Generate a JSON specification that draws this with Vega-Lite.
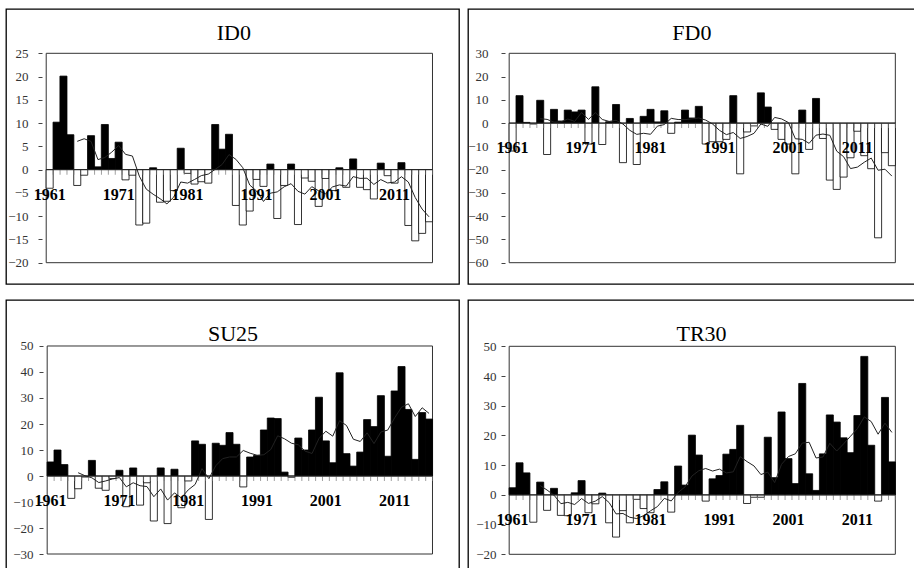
{
"$schema":"https://vega.github.io/schema/vega-lite/v6.json",
"padding":{"left":5,"top":8,"right":0,"bottom":0},
"background":"white",
"config":{"view":{"stroke":"#000","strokeWidth":1.3},"font":"Liberation Serif","text":{"font":"Liberation Serif"}},
"datasets":{
"labs":[{"year":1961,"lab":"1961"},{"year":1971,"lab":"1971"},{"year":1981,"lab":"1981"},{"year":1991,"lab":"1991"},{"year":2001,"lab":"2001"},{"year":2011,"lab":"2011"}],
"d":[
{"year":1961,"ID0":-4.0,"FD0":-12,"SU25":5.4,"TR30":2.4,"ID0m":null,"FD0m":null,"SU25m":null,"TR30m":null},
{"year":1962,"ID0":10.2,"FD0":11.8,"SU25":10.0,"TR30":10.8,"ID0m":null,"FD0m":null,"SU25m":null,"TR30m":null},
{"year":1963,"ID0":20.1,"FD0":0.3,"SU25":4.4,"TR30":7.4,"ID0m":null,"FD0m":null,"SU25m":null,"TR30m":null},
{"year":1964,"ID0":7.5,"FD0":-0.4,"SU25":-8.6,"TR30":-9.2,"ID0m":null,"FD0m":null,"SU25m":null,"TR30m":null},
{"year":1965,"ID0":-3.4,"FD0":9.8,"SU25":-4.9,"TR30":4.3,"ID0m":6.08,"FD0m":1.9,"SU25m":1.26,"TR30m":3.14},
{"year":1966,"ID0":-1.2,"FD0":-13.5,"SU25":-0.4,"TR30":-5.2,"ID0m":6.64,"FD0m":1.6,"SU25m":0.1,"TR30m":1.62},
{"year":1967,"ID0":7.3,"FD0":5.9,"SU25":6.0,"TR30":2.2,"ID0m":6.06,"FD0m":0.42,"SU25m":-0.7,"TR30m":-0.1},
{"year":1968,"ID0":0.6,"FD0":0.9,"SU25":-4.7,"TR30":-6.9,"ID0m":2.16,"FD0m":0.54,"SU25m":-2.52,"TR30m":-2.96},
{"year":1969,"ID0":9.7,"FD0":5.6,"SU25":-5.5,"TR30":-7.0,"ID0m":2.6,"FD0m":1.74,"SU25m":-1.9,"TR30m":-2.52},
{"year":1970,"ID0":2.4,"FD0":4.8,"SU25":-1.0,"TR30":0.7,"ID0m":3.76,"FD0m":0.74,"SU25m":-1.12,"TR30m":-3.24},
{"year":1971,"ID0":5.9,"FD0":5.6,"SU25":2.2,"TR30":4.8,"ID0m":5.18,"FD0m":4.56,"SU25m":-0.6,"TR30m":-1.24},
{"year":1972,"ID0":-2.2,"FD0":-9.0,"SU25":-11.8,"TR30":-6.0,"ID0m":3.28,"FD0m":1.58,"SU25m":-4.16,"TR30m":-2.88},
{"year":1973,"ID0":-1.2,"FD0":15.6,"SU25":3.1,"TR30":-3.0,"ID0m":2.92,"FD0m":4.52,"SU25m":-2.6,"TR30m":-2.1},
{"year":1974,"ID0":-11.9,"FD0":-9.2,"SU25":-11.2,"TR30":0.6,"ID0m":-1.4,"FD0m":1.56,"SU25m":-3.74,"TR30m":-0.58},
{"year":1975,"ID0":-11.5,"FD0":0.6,"SU25":-2.6,"TR30":-9.4,"ID0m":-4.18,"FD0m":0.72,"SU25m":-4.06,"TR30m":-2.6},
{"year":1976,"ID0":0.4,"FD0":8.0,"SU25":-17.3,"TR30":-14.2,"ID0m":-5.28,"FD0m":1.2,"SU25m":-7.96,"TR30m":-6.4},
{"year":1977,"ID0":-7.0,"FD0":-17.0,"SU25":3.1,"TR30":-5.3,"ID0m":-6.24,"FD0m":-0.4,"SU25m":-4.98,"TR30m":-6.26},
{"year":1978,"ID0":-6.8,"FD0":2.0,"SU25":-18.3,"TR30":-9.4,"ID0m":-7.36,"FD0m":-3.12,"SU25m":-9.26,"TR30m":-7.54},
{"year":1979,"ID0":-4.5,"FD0":-17.8,"SU25":2.6,"TR30":-1.5,"ID0m":-5.88,"FD0m":-4.84,"SU25m":-6.5,"TR30m":-7.96},
{"year":1980,"ID0":4.6,"FD0":2.9,"SU25":-12.2,"TR30":-4.6,"ID0m":-2.66,"FD0m":-4.38,"SU25m":-8.42,"TR30m":-7.0},
{"year":1981,"ID0":-0.8,"FD0":5.9,"SU25":-1.9,"TR30":-6.0,"ID0m":-2.9,"FD0m":-4.8,"SU25m":-5.34,"TR30m":-5.36},
{"year":1982,"ID0":-3.1,"FD0":0.5,"SU25":13.5,"TR30":1.8,"ID0m":-2.12,"FD0m":-1.3,"SU25m":-3.26,"TR30m":-3.94},
{"year":1983,"ID0":-2.6,"FD0":5.3,"SU25":12.2,"TR30":4.4,"ID0m":-1.28,"FD0m":-0.64,"SU25m":2.84,"TR30m":-1.18},
{"year":1984,"ID0":-2.9,"FD0":-4.4,"SU25":-16.7,"TR30":-5.8,"ID0m":-0.96,"FD0m":2.04,"SU25m":-1.02,"TR30m":-2.04},
{"year":1985,"ID0":9.7,"FD0":0.4,"SU25":12.6,"TR30":9.7,"ID0m":0.06,"FD0m":1.54,"SU25m":3.94,"TR30m":0.82},
{"year":1986,"ID0":4.4,"FD0":5.6,"SU25":11.8,"TR30":3.3,"ID0m":1.1,"FD0m":1.48,"SU25m":6.68,"TR30m":2.68},
{"year":1987,"ID0":7.6,"FD0":2.2,"SU25":16.7,"TR30":20.1,"ID0m":3.24,"FD0m":1.82,"SU25m":7.32,"TR30m":6.34},
{"year":1988,"ID0":-7.7,"FD0":7.2,"SU25":12.2,"TR30":13.4,"ID0m":2.22,"FD0m":2.2,"SU25m":7.32,"TR30m":8.14},
{"year":1989,"ID0":-11.9,"FD0":-9.0,"SU25":-4.2,"TR30":-2.1,"ID0m":0.42,"FD0m":1.28,"SU25m":9.82,"TR30m":8.88},
{"year":1990,"ID0":-8.9,"FD0":-8.0,"SU25":7.3,"TR30":5.4,"ID0m":-3.3,"FD0m":-0.4,"SU25m":8.76,"TR30m":8.02},
{"year":1991,"ID0":-2.1,"FD0":-8.0,"SU25":7.9,"TR30":6.5,"ID0m":-4.6,"FD0m":-3.12,"SU25m":7.98,"TR30m":8.66},
{"year":1992,"ID0":-3.6,"FD0":-7.0,"SU25":17.7,"TR30":13.7,"ID0m":-6.84,"FD0m":-4.96,"SU25m":8.18,"TR30m":7.38},
{"year":1993,"ID0":1.2,"FD0":11.8,"SU25":22.3,"TR30":15.3,"ID0m":-5.06,"FD0m":-4.04,"SU25m":10.2,"TR30m":7.76},
{"year":1994,"ID0":-10.5,"FD0":-21.8,"SU25":22.1,"TR30":23.4,"ID0m":-4.78,"FD0m":-6.6,"SU25m":15.46,"TR30m":12.86},
{"year":1995,"ID0":-3.4,"FD0":-3.8,"SU25":1.5,"TR30":-2.9,"ID0m":-3.68,"FD0m":-5.76,"SU25m":14.3,"TR30m":11.2},
{"year":1996,"ID0":1.2,"FD0":-1.2,"SU25":-0.5,"TR30":-0.8,"ID0m":-3.02,"FD0m":-4.4,"SU25m":12.62,"TR30m":9.74},
{"year":1997,"ID0":-11.8,"FD0":13.0,"SU25":14.6,"TR30":-0.8,"ID0m":-4.66,"FD0m":-0.4,"SU25m":12.0,"TR30m":6.84},
{"year":1998,"ID0":-1.8,"FD0":6.9,"SU25":10.0,"TR30":19.4,"ID0m":-5.26,"FD0m":-1.38,"SU25m":9.54,"TR30m":7.66},
{"year":1999,"ID0":-2.5,"FD0":-2.7,"SU25":17.7,"TR30":5.8,"ID0m":-3.66,"FD0m":2.44,"SU25m":8.66,"TR30m":4.14},
{"year":2000,"ID0":-7.9,"FD0":-7.0,"SU25":30.3,"TR30":27.9,"ID0m":-4.56,"FD0m":1.8,"SU25m":14.42,"TR30m":10.3},
{"year":2001,"ID0":-1.9,"FD0":-9.0,"SU25":13.5,"TR30":12.2,"ID0m":-5.18,"FD0m":0.24,"SU25m":17.22,"TR30m":12.9},
{"year":2002,"ID0":-4.5,"FD0":-21.8,"SU25":5.1,"TR30":3.8,"ID0m":-3.72,"FD0m":-6.72,"SU25m":15.32,"TR30m":13.82},
{"year":2003,"ID0":0.4,"FD0":5.6,"SU25":39.7,"TR30":37.5,"ID0m":-3.28,"FD0m":-6.98,"SU25m":21.26,"TR30m":17.44},
{"year":2004,"ID0":-3.8,"FD0":-11.3,"SU25":8.6,"TR30":7.1,"ID0m":-3.54,"FD0m":-8.7,"SU25m":19.44,"TR30m":17.7},
{"year":2005,"ID0":2.3,"FD0":10.6,"SU25":3.8,"TR30":1.5,"ID0m":-1.5,"FD0m":-5.18,"SU25m":14.14,"TR30m":12.42},
{"year":2006,"ID0":-3.8,"FD0":-6.6,"SU25":9.2,"TR30":13.8,"ID0m":-1.88,"FD0m":-4.7,"SU25m":13.28,"TR30m":12.74},
{"year":2007,"ID0":-4.3,"FD0":-24.5,"SU25":21.7,"TR30":26.9,"ID0m":-1.84,"FD0m":-5.24,"SU25m":16.6,"TR30m":17.36},
{"year":2008,"ID0":-6.3,"FD0":-28.5,"SU25":19.0,"TR30":24.5,"ID0m":-3.18,"FD0m":-12.06,"SU25m":12.46,"TR30m":14.76},
{"year":2009,"ID0":1.4,"FD0":-23.2,"SU25":30.9,"TR30":19.2,"ID0m":-2.14,"FD0m":-14.44,"SU25m":16.92,"TR30m":17.18},
{"year":2010,"ID0":-1.3,"FD0":-14.9,"SU25":7.6,"TR30":14.2,"ID0m":-2.86,"FD0m":-19.54,"SU25m":17.68,"TR30m":19.72},
{"year":2011,"ID0":-2.9,"FD0":-3.5,"SU25":32.7,"TR30":26.7,"ID0m":-2.68,"FD0m":-18.92,"SU25m":22.38,"TR30m":22.3},
{"year":2012,"ID0":1.5,"FD0":-14.0,"SU25":42.1,"TR30":46.6,"ID0m":-1.52,"FD0m":-16.82,"SU25m":26.46,"TR30m":26.24},
{"year":2013,"ID0":-12.0,"FD0":-19.6,"SU25":25.6,"TR30":16.7,"ID0m":-2.66,"FD0m":-15.04,"SU25m":27.78,"TR30m":24.68},
{"year":2014,"ID0":-15.3,"FD0":-49.3,"SU25":6.4,"TR30":-2.1,"ID0m":-6.0,"FD0m":-20.26,"SU25m":22.88,"TR30m":20.42},
{"year":2015,"ID0":-13.7,"FD0":-12.7,"SU25":24.4,"TR30":32.8,"ID0m":-8.48,"FD0m":-19.82,"SU25m":26.24,"TR30m":24.14},
{"year":2016,"ID0":-11.2,"FD0":-18.3,"SU25":21.9,"TR30":11.1,"ID0m":-10.14,"FD0m":-22.78,"SU25m":24.08,"TR30m":21.02}
]},
"spacing":14,
"vconcat":[
{"spacing":7,"hconcat":[
{"width":453,"height":275,"data":{"name":"d"},"layer":[
{"data":{"values":[{}]},"mark":{"type":"rect","fillOpacity":0,"stroke":"#333","strokeWidth":1},"encoding":{"x":{"datum":1960.5,"type":"quantitative","scale":{"domain":[1955.396,2019.619],"nice":false,"zero":false},"axis":null},"x2":{"datum":2016.5},"y":{"datum":25,"type":"quantitative","scale":{"domain":[-24.577,34.52],"nice":false,"zero":false},"axis":{"values":[-20,-15,-10,-5,0,5,10,15,20,25],"offset":-36,"title":null,"domain":false,"grid":false,"tickSize":4,"tickColor":"#444","labelFont":"Liberation Serif","labelFontSize":13,"labelColor":"#333","labelPadding":10,"labelOverlap":false}},"y2":{"datum":-20}}},
{"mark":{"type":"bar","size":7.05,"stroke":"#000","strokeWidth":0.8},"encoding":{"x":{"field":"year","type":"quantitative","scale":{"domain":[1955.396,2019.619],"nice":false,"zero":false},"axis":null},"y":{"field":"ID0","type":"quantitative","stack":null,"scale":{"domain":[-24.577,34.52],"nice":false,"zero":false},"axis":{"values":[-20,-15,-10,-5,0,5,10,15,20,25],"offset":-36,"title":null,"domain":false,"grid":false,"tickSize":4,"tickColor":"#444","labelFont":"Liberation Serif","labelFontSize":13,"labelColor":"#333","labelPadding":10,"labelOverlap":false}},"y2":{"datum":0},"fill":{"condition":{"test":"datum.ID0 >= 0","value":"#000"},"value":"#fff"}}},
{"mark":{"type":"tick","orient":"vertical","size":5,"thickness":1,"color":"#777","xOffset":3.52,"yOffset":2.5},"encoding":{"x":{"field":"year","type":"quantitative","scale":{"domain":[1955.396,2019.619],"nice":false,"zero":false},"axis":null},"y":{"datum":0,"type":"quantitative","scale":{"domain":[-24.577,34.52],"nice":false,"zero":false},"axis":{"values":[-20,-15,-10,-5,0,5,10,15,20,25],"offset":-36,"title":null,"domain":false,"grid":false,"tickSize":4,"tickColor":"#444","labelFont":"Liberation Serif","labelFontSize":13,"labelColor":"#333","labelPadding":10,"labelOverlap":false}}}},
{"data":{"values":[{}]},"mark":{"type":"rule","color":"#222","strokeWidth":1},"encoding":{"x":{"datum":1960.5,"type":"quantitative","scale":{"domain":[1955.396,2019.619],"nice":false,"zero":false},"axis":null},"x2":{"datum":2016.5},"y":{"datum":0,"type":"quantitative","scale":{"domain":[-24.577,34.52],"nice":false,"zero":false},"axis":{"values":[-20,-15,-10,-5,0,5,10,15,20,25],"offset":-36,"title":null,"domain":false,"grid":false,"tickSize":4,"tickColor":"#444","labelFont":"Liberation Serif","labelFontSize":13,"labelColor":"#333","labelPadding":10,"labelOverlap":false}}}},
{"mark":{"type":"line","color":"#222","strokeWidth":1},"encoding":{"x":{"field":"year","type":"quantitative","scale":{"domain":[1955.396,2019.619],"nice":false,"zero":false},"axis":null},"y":{"field":"ID0m","type":"quantitative","scale":{"domain":[-24.577,34.52],"nice":false,"zero":false},"axis":{"values":[-20,-15,-10,-5,0,5,10,15,20,25],"offset":-36,"title":null,"domain":false,"grid":false,"tickSize":4,"tickColor":"#444","labelFont":"Liberation Serif","labelFontSize":13,"labelColor":"#333","labelPadding":10,"labelOverlap":false}}}},
{"data":{"name":"labs"},"mark":{"type":"text","fontWeight":"bold","fontSize":16,"baseline":"alphabetic","align":"center","dy":30,"color":"#000"},"encoding":{"x":{"field":"year","type":"quantitative","scale":{"domain":[1955.396,2019.619],"nice":false,"zero":false},"axis":null},"y":{"datum":0,"type":"quantitative","scale":{"domain":[-24.577,34.52],"nice":false,"zero":false},"axis":{"values":[-20,-15,-10,-5,0,5,10,15,20,25],"offset":-36,"title":null,"domain":false,"grid":false,"tickSize":4,"tickColor":"#444","labelFont":"Liberation Serif","labelFontSize":13,"labelColor":"#333","labelPadding":10,"labelOverlap":false}},"text":{"field":"lab"}}},
{"data":{"values":[{}]},"mark":{"type":"text","fontSize":22,"baseline":"alphabetic","align":"center","color":"#000"},"encoding":{"x":{"datum":1987.7,"type":"quantitative","scale":{"domain":[1955.396,2019.619],"nice":false,"zero":false},"axis":null},"y":{"datum":27.79,"type":"quantitative","scale":{"domain":[-24.577,34.52],"nice":false,"zero":false},"axis":{"values":[-20,-15,-10,-5,0,5,10,15,20,25],"offset":-36,"title":null,"domain":false,"grid":false,"tickSize":4,"tickColor":"#444","labelFont":"Liberation Serif","labelFontSize":13,"labelColor":"#333","labelPadding":10,"labelOverlap":false}},"text":{"value":"ID0"}}}
]},
{"width":447,"height":275,"data":{"name":"d"},"layer":[
{"data":{"values":[{}]},"mark":{"type":"rect","fillOpacity":0,"stroke":"#333","strokeWidth":1},"encoding":{"x":{"datum":1960.5,"type":"quantitative","scale":{"domain":[1955.254,2018.627],"nice":false,"zero":false},"axis":null},"x2":{"datum":2016.5},"y":{"datum":30,"type":"quantitative","scale":{"domain":[-69.155,49.04],"nice":false,"zero":false},"axis":{"values":[-60,-50,-40,-30,-20,-10,0,10,20,30],"offset":-37,"title":null,"domain":false,"grid":false,"tickSize":4,"tickColor":"#444","labelFont":"Liberation Serif","labelFontSize":13,"labelColor":"#333","labelPadding":13,"labelOverlap":false}},"y2":{"datum":-60}}},
{"mark":{"type":"bar","size":7.05,"stroke":"#000","strokeWidth":0.8},"encoding":{"x":{"field":"year","type":"quantitative","scale":{"domain":[1955.254,2018.627],"nice":false,"zero":false},"axis":null},"y":{"field":"FD0","type":"quantitative","stack":null,"scale":{"domain":[-69.155,49.04],"nice":false,"zero":false},"axis":{"values":[-60,-50,-40,-30,-20,-10,0,10,20,30],"offset":-37,"title":null,"domain":false,"grid":false,"tickSize":4,"tickColor":"#444","labelFont":"Liberation Serif","labelFontSize":13,"labelColor":"#333","labelPadding":13,"labelOverlap":false}},"y2":{"datum":0},"fill":{"condition":{"test":"datum.FD0 >= 0","value":"#000"},"value":"#fff"}}},
{"mark":{"type":"tick","orient":"vertical","size":5,"thickness":1,"color":"#777","xOffset":3.52,"yOffset":2.5},"encoding":{"x":{"field":"year","type":"quantitative","scale":{"domain":[1955.254,2018.627],"nice":false,"zero":false},"axis":null},"y":{"datum":0,"type":"quantitative","scale":{"domain":[-69.155,49.04],"nice":false,"zero":false},"axis":{"values":[-60,-50,-40,-30,-20,-10,0,10,20,30],"offset":-37,"title":null,"domain":false,"grid":false,"tickSize":4,"tickColor":"#444","labelFont":"Liberation Serif","labelFontSize":13,"labelColor":"#333","labelPadding":13,"labelOverlap":false}}}},
{"data":{"values":[{}]},"mark":{"type":"rule","color":"#222","strokeWidth":1},"encoding":{"x":{"datum":1960.5,"type":"quantitative","scale":{"domain":[1955.254,2018.627],"nice":false,"zero":false},"axis":null},"x2":{"datum":2016.5},"y":{"datum":0,"type":"quantitative","scale":{"domain":[-69.155,49.04],"nice":false,"zero":false},"axis":{"values":[-60,-50,-40,-30,-20,-10,0,10,20,30],"offset":-37,"title":null,"domain":false,"grid":false,"tickSize":4,"tickColor":"#444","labelFont":"Liberation Serif","labelFontSize":13,"labelColor":"#333","labelPadding":13,"labelOverlap":false}}}},
{"mark":{"type":"line","color":"#222","strokeWidth":1},"encoding":{"x":{"field":"year","type":"quantitative","scale":{"domain":[1955.254,2018.627],"nice":false,"zero":false},"axis":null},"y":{"field":"FD0m","type":"quantitative","scale":{"domain":[-69.155,49.04],"nice":false,"zero":false},"axis":{"values":[-60,-50,-40,-30,-20,-10,0,10,20,30],"offset":-37,"title":null,"domain":false,"grid":false,"tickSize":4,"tickColor":"#444","labelFont":"Liberation Serif","labelFontSize":13,"labelColor":"#333","labelPadding":13,"labelOverlap":false}}}},
{"data":{"name":"labs"},"mark":{"type":"text","fontWeight":"bold","fontSize":16,"baseline":"alphabetic","align":"center","dy":30,"color":"#000"},"encoding":{"x":{"field":"year","type":"quantitative","scale":{"domain":[1955.254,2018.627],"nice":false,"zero":false},"axis":null},"y":{"datum":0,"type":"quantitative","scale":{"domain":[-69.155,49.04],"nice":false,"zero":false},"axis":{"values":[-60,-50,-40,-30,-20,-10,0,10,20,30],"offset":-37,"title":null,"domain":false,"grid":false,"tickSize":4,"tickColor":"#444","labelFont":"Liberation Serif","labelFontSize":13,"labelColor":"#333","labelPadding":13,"labelOverlap":false}},"text":{"field":"lab"}}},
{"data":{"values":[{}]},"mark":{"type":"text","fontSize":22,"baseline":"alphabetic","align":"center","color":"#000"},"encoding":{"x":{"datum":1987.0,"type":"quantitative","scale":{"domain":[1955.254,2018.627],"nice":false,"zero":false},"axis":null},"y":{"datum":35.59,"type":"quantitative","scale":{"domain":[-69.155,49.04],"nice":false,"zero":false},"axis":{"values":[-60,-50,-40,-30,-20,-10,0,10,20,30],"offset":-37,"title":null,"domain":false,"grid":false,"tickSize":4,"tickColor":"#444","labelFont":"Liberation Serif","labelFontSize":13,"labelColor":"#333","labelPadding":13,"labelOverlap":false}},"text":{"value":"FD0"}}}
]}
]},
{"spacing":7,"hconcat":[
{"width":453,"height":270,"data":{"name":"d"},"layer":[
{"data":{"values":[{}]},"mark":{"type":"rect","fillOpacity":0,"stroke":"#333","strokeWidth":1},"encoding":{"x":{"datum":1960.5,"type":"quantitative","scale":{"domain":[1955.241,2019.627],"nice":false,"zero":false},"axis":null},"x2":{"datum":2016.5},"y":{"datum":50,"type":"quantitative","scale":{"domain":[-36.15,67.69],"nice":false,"zero":false},"axis":{"values":[-30,-20,-10,0,10,20,30,40,50],"offset":-37,"title":null,"domain":false,"grid":false,"tickSize":4,"tickColor":"#444","labelFont":"Liberation Serif","labelFontSize":13,"labelColor":"#333","labelPadding":6,"labelOverlap":false}},"y2":{"datum":-30}}},
{"mark":{"type":"bar","size":7.04,"stroke":"#000","strokeWidth":0.8},"encoding":{"x":{"field":"year","type":"quantitative","scale":{"domain":[1955.241,2019.627],"nice":false,"zero":false},"axis":null},"y":{"field":"SU25","type":"quantitative","stack":null,"scale":{"domain":[-36.15,67.69],"nice":false,"zero":false},"axis":{"values":[-30,-20,-10,0,10,20,30,40,50],"offset":-37,"title":null,"domain":false,"grid":false,"tickSize":4,"tickColor":"#444","labelFont":"Liberation Serif","labelFontSize":13,"labelColor":"#333","labelPadding":6,"labelOverlap":false}},"y2":{"datum":0},"fill":{"condition":{"test":"datum.SU25 >= 0","value":"#000"},"value":"#fff"}}},
{"mark":{"type":"tick","orient":"vertical","size":5,"thickness":1,"color":"#777","xOffset":3.52,"yOffset":2.5},"encoding":{"x":{"field":"year","type":"quantitative","scale":{"domain":[1955.241,2019.627],"nice":false,"zero":false},"axis":null},"y":{"datum":0,"type":"quantitative","scale":{"domain":[-36.15,67.69],"nice":false,"zero":false},"axis":{"values":[-30,-20,-10,0,10,20,30,40,50],"offset":-37,"title":null,"domain":false,"grid":false,"tickSize":4,"tickColor":"#444","labelFont":"Liberation Serif","labelFontSize":13,"labelColor":"#333","labelPadding":6,"labelOverlap":false}}}},
{"data":{"values":[{}]},"mark":{"type":"rule","color":"#222","strokeWidth":1},"encoding":{"x":{"datum":1960.5,"type":"quantitative","scale":{"domain":[1955.241,2019.627],"nice":false,"zero":false},"axis":null},"x2":{"datum":2016.5},"y":{"datum":0,"type":"quantitative","scale":{"domain":[-36.15,67.69],"nice":false,"zero":false},"axis":{"values":[-30,-20,-10,0,10,20,30,40,50],"offset":-37,"title":null,"domain":false,"grid":false,"tickSize":4,"tickColor":"#444","labelFont":"Liberation Serif","labelFontSize":13,"labelColor":"#333","labelPadding":6,"labelOverlap":false}}}},
{"mark":{"type":"line","color":"#222","strokeWidth":1},"encoding":{"x":{"field":"year","type":"quantitative","scale":{"domain":[1955.241,2019.627],"nice":false,"zero":false},"axis":null},"y":{"field":"SU25m","type":"quantitative","scale":{"domain":[-36.15,67.69],"nice":false,"zero":false},"axis":{"values":[-30,-20,-10,0,10,20,30,40,50],"offset":-37,"title":null,"domain":false,"grid":false,"tickSize":4,"tickColor":"#444","labelFont":"Liberation Serif","labelFontSize":13,"labelColor":"#333","labelPadding":6,"labelOverlap":false}}}},
{"data":{"name":"labs"},"mark":{"type":"text","fontWeight":"bold","fontSize":16,"baseline":"alphabetic","align":"center","dy":30,"color":"#000"},"encoding":{"x":{"field":"year","type":"quantitative","scale":{"domain":[1955.241,2019.627],"nice":false,"zero":false},"axis":null},"y":{"datum":0,"type":"quantitative","scale":{"domain":[-36.15,67.69],"nice":false,"zero":false},"axis":{"values":[-30,-20,-10,0,10,20,30,40,50],"offset":-37,"title":null,"domain":false,"grid":false,"tickSize":4,"tickColor":"#444","labelFont":"Liberation Serif","labelFontSize":13,"labelColor":"#333","labelPadding":6,"labelOverlap":false}},"text":{"field":"lab"}}},
{"data":{"values":[{}]},"mark":{"type":"text","fontSize":22,"baseline":"alphabetic","align":"center","color":"#000"},"encoding":{"x":{"datum":1987.5,"type":"quantitative","scale":{"domain":[1955.241,2019.627],"nice":false,"zero":false},"axis":null},"y":{"datum":51.8,"type":"quantitative","scale":{"domain":[-36.15,67.69],"nice":false,"zero":false},"axis":{"values":[-30,-20,-10,0,10,20,30,40,50],"offset":-37,"title":null,"domain":false,"grid":false,"tickSize":4,"tickColor":"#444","labelFont":"Liberation Serif","labelFontSize":13,"labelColor":"#333","labelPadding":6,"labelOverlap":false}},"text":{"value":"SU25"}}}
]},
{"width":447,"height":270,"data":{"name":"d"},"layer":[
{"data":{"values":[{}]},"mark":{"type":"rect","fillOpacity":0,"stroke":"#333","strokeWidth":1},"encoding":{"x":{"datum":1960.5,"type":"quantitative","scale":{"domain":[1955.254,2018.627],"nice":false,"zero":false},"axis":null},"x2":{"datum":2016.5},"y":{"datum":50,"type":"quantitative","scale":{"domain":[-25.28,65.58],"nice":false,"zero":false},"axis":{"values":[-20,-10,0,10,20,30,40,50],"offset":-37,"title":null,"domain":false,"grid":false,"tickSize":4,"tickColor":"#444","labelFont":"Liberation Serif","labelFontSize":13,"labelColor":"#333","labelPadding":5,"labelOverlap":false}},"y2":{"datum":-20}}},
{"mark":{"type":"bar","size":7.05,"stroke":"#000","strokeWidth":0.8},"encoding":{"x":{"field":"year","type":"quantitative","scale":{"domain":[1955.254,2018.627],"nice":false,"zero":false},"axis":null},"y":{"field":"TR30","type":"quantitative","stack":null,"scale":{"domain":[-25.28,65.58],"nice":false,"zero":false},"axis":{"values":[-20,-10,0,10,20,30,40,50],"offset":-37,"title":null,"domain":false,"grid":false,"tickSize":4,"tickColor":"#444","labelFont":"Liberation Serif","labelFontSize":13,"labelColor":"#333","labelPadding":5,"labelOverlap":false}},"y2":{"datum":0},"fill":{"condition":{"test":"datum.TR30 >= 0","value":"#000"},"value":"#fff"}}},
{"mark":{"type":"tick","orient":"vertical","size":5,"thickness":1,"color":"#777","xOffset":3.52,"yOffset":2.5},"encoding":{"x":{"field":"year","type":"quantitative","scale":{"domain":[1955.254,2018.627],"nice":false,"zero":false},"axis":null},"y":{"datum":0,"type":"quantitative","scale":{"domain":[-25.28,65.58],"nice":false,"zero":false},"axis":{"values":[-20,-10,0,10,20,30,40,50],"offset":-37,"title":null,"domain":false,"grid":false,"tickSize":4,"tickColor":"#444","labelFont":"Liberation Serif","labelFontSize":13,"labelColor":"#333","labelPadding":5,"labelOverlap":false}}}},
{"data":{"values":[{}]},"mark":{"type":"rule","color":"#222","strokeWidth":1},"encoding":{"x":{"datum":1960.5,"type":"quantitative","scale":{"domain":[1955.254,2018.627],"nice":false,"zero":false},"axis":null},"x2":{"datum":2016.5},"y":{"datum":0,"type":"quantitative","scale":{"domain":[-25.28,65.58],"nice":false,"zero":false},"axis":{"values":[-20,-10,0,10,20,30,40,50],"offset":-37,"title":null,"domain":false,"grid":false,"tickSize":4,"tickColor":"#444","labelFont":"Liberation Serif","labelFontSize":13,"labelColor":"#333","labelPadding":5,"labelOverlap":false}}}},
{"mark":{"type":"line","color":"#222","strokeWidth":1},"encoding":{"x":{"field":"year","type":"quantitative","scale":{"domain":[1955.254,2018.627],"nice":false,"zero":false},"axis":null},"y":{"field":"TR30m","type":"quantitative","scale":{"domain":[-25.28,65.58],"nice":false,"zero":false},"axis":{"values":[-20,-10,0,10,20,30,40,50],"offset":-37,"title":null,"domain":false,"grid":false,"tickSize":4,"tickColor":"#444","labelFont":"Liberation Serif","labelFontSize":13,"labelColor":"#333","labelPadding":5,"labelOverlap":false}}}},
{"data":{"name":"labs"},"mark":{"type":"text","fontWeight":"bold","fontSize":16,"baseline":"alphabetic","align":"center","dy":30,"color":"#000"},"encoding":{"x":{"field":"year","type":"quantitative","scale":{"domain":[1955.254,2018.627],"nice":false,"zero":false},"axis":null},"y":{"datum":0,"type":"quantitative","scale":{"domain":[-25.28,65.58],"nice":false,"zero":false},"axis":{"values":[-20,-10,0,10,20,30,40,50],"offset":-37,"title":null,"domain":false,"grid":false,"tickSize":4,"tickColor":"#444","labelFont":"Liberation Serif","labelFontSize":13,"labelColor":"#333","labelPadding":5,"labelOverlap":false}},"text":{"field":"lab"}}},
{"data":{"values":[{}]},"mark":{"type":"text","fontSize":22,"baseline":"alphabetic","align":"center","color":"#000"},"encoding":{"x":{"datum":1988.4,"type":"quantitative","scale":{"domain":[1955.254,2018.627],"nice":false,"zero":false},"axis":null},"y":{"datum":51.68,"type":"quantitative","scale":{"domain":[-25.28,65.58],"nice":false,"zero":false},"axis":{"values":[-20,-10,0,10,20,30,40,50],"offset":-37,"title":null,"domain":false,"grid":false,"tickSize":4,"tickColor":"#444","labelFont":"Liberation Serif","labelFontSize":13,"labelColor":"#333","labelPadding":5,"labelOverlap":false}},"text":{"value":"TR30"}}}
]}
]}
]
}
